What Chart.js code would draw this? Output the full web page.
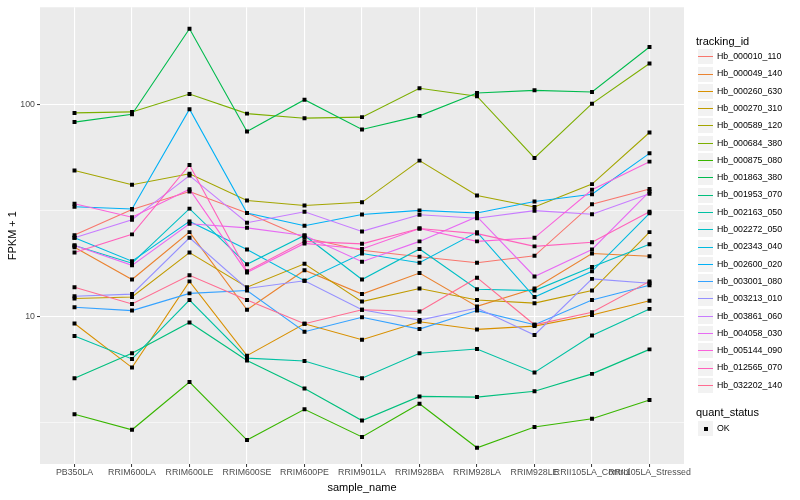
<!DOCTYPE html>
<html>
<head>
<meta charset="utf-8">
<script src="https://cdn.jsdelivr.net/npm/chart.js@4.4.0/dist/chart.umd.min.js"></script>
<style>
  body { margin: 0; background: #fff; font-family: "Liberation Sans", Arial, sans-serif; }
  #wrap { position: relative; width: 800px; height: 500px; }
  .ltitle { position: absolute; font-size: 11px; line-height: 11px; white-space: nowrap; color: #000; }
  .lkey { position: absolute; width: 17px; height: 17px; background: #F2F2F2; box-sizing: border-box; border: 1px solid #fff; }
  .lline { position: absolute; left: 0; right: 0; top: 7px; height: 1px; }
  .ldot { position: absolute; left: 5.5px; top: 5.5px; width: 4px; height: 4px; background: #000; }
  .llab { position: absolute; font-size: 8.8px; line-height: 9px; white-space: nowrap; color: #000; }
</style>
</head>
<body>
<div id="wrap">
  <canvas id="chart" width="800" height="500"></canvas>
</div>
<script>
// x categories
const sampleNames = ['PB350LA', 'RRIM600LA', 'RRIM600LE', 'RRIM600SE', 'RRIM600PE', 'RRIM901LA',
    'RRIM928BA', 'RRIM928LA', 'RRIM928LE', 'RRII105LA_Control', 'RRII105LA_Stressed'];

// FPKM + 1 per gene, one value per sample
const hb_000010_110 = [24.3, 32.1, 39.0, 30.9, 23.6, 20.6, 19.2, 18.0, 19.4, 34.0, 40.1];
const hb_000049_140 = [21.3, 15.0, 25.1, 10.8, 16.6, 12.8, 16.1, 11.2, 13.6, 19.9, 19.3];
const hb_000260_630 = [9.3, 5.76, 14.7, 6.56, 9.27, 7.8, 9.47, 8.72, 9.04, 10.2, 11.9];
const hb_000270_310 = [12.2, 12.4, 20.1, 13.8, 17.8, 11.8, 13.6, 12.0, 11.6, 13.3, 25.1];
const hb_000589_120 = [49.0, 42.0, 47.3, 35.4, 33.5, 34.7, 54.6, 37.4, 33.0, 42.3, 74.1];
const hb_000684_380 = [91.7, 92.7, 112.6, 91.0, 86.6, 87.6, 119.8, 109.9, 56.2, 101.4, 157];
const hb_000875_080 = [3.47, 2.93, 4.92, 2.62, 3.66, 2.71, 3.89, 2.41, 3.02, 3.30, 4.05];
const hb_001863_380 = [83.0, 90.4, 229, 74.9, 105.9, 76.6, 88.8, 113.8, 117.2, 115.1, 187.8];
const hb_001953_070 = [5.13, 6.73, 9.40, 6.22, 4.59, 3.24, 4.21, 4.18, 4.45, 5.38, 7.02];
const hb_002163_050 = [8.12, 6.33, 12.0, 6.38, 6.19, 5.13, 6.73, 7.05, 5.46, 8.17, 10.9];
const hb_002272_050 = [21.7, 17.9, 32.4, 17.7, 24.2, 15.0, 20.9, 13.5, 13.3, 17.2, 22.0];
const hb_002343_040 = [23.6, 18.3, 28.2, 20.8, 14.8, 19.9, 18.0, 25.1, 12.4, 16.4, 30.8];
const hb_002600_020 = [33.1, 32.3, 95.5, 30.9, 26.9, 30.4, 31.8, 30.9, 35.0, 37.9, 59.1];
const hb_003001_080 = [11.1, 10.7, 12.9, 13.3, 8.5, 9.95, 8.75, 10.7, 9.17, 12.0, 14.1];
const hb_003213_010 = [12.5, 12.8, 23.6, 13.6, 14.8, 10.8, 9.65, 11.0, 8.21, 15.1, 14.4];
const hb_003861_060 = [23.6, 28.7, 46.4, 27.8, 31.3, 25.3, 30.3, 29.2, 31.7, 30.5, 38.1];
const hb_004058_030 = [21.7, 17.5, 27.5, 26.3, 24.2, 18.2, 22.7, 29.7, 15.5, 20.8, 39.0];
const hb_005144_090 = [34.2, 29.5, 40.0, 16.2, 22.2, 20.9, 26.1, 22.7, 23.6, 39.8, 54.0];
const hb_012565_070 = [20.1, 24.5, 52.1, 16.4, 22.7, 22.1, 26.1, 24.7, 21.5, 22.5, 31.3];
const hb_032202_140 = [13.8, 11.5, 15.7, 12.0, 9.27, 10.8, 10.6, 15.3, 9.17, 10.5, 14.7];

const trackingIds = ['Hb_000010_110', 'Hb_000049_140', 'Hb_000260_630', 'Hb_000270_310', 'Hb_000589_120',
    'Hb_000684_380', 'Hb_000875_080', 'Hb_001863_380', 'Hb_001953_070', 'Hb_002163_050',
    'Hb_002272_050', 'Hb_002343_040', 'Hb_002600_020', 'Hb_003001_080', 'Hb_003213_010',
    'Hb_003861_060', 'Hb_004058_030', 'Hb_005144_090', 'Hb_012565_070', 'Hb_032202_140'];
const seriesValues = [hb_000010_110, hb_000049_140, hb_000260_630, hb_000270_310, hb_000589_120,
    hb_000684_380, hb_000875_080, hb_001863_380, hb_001953_070, hb_002163_050,
    hb_002272_050, hb_002343_040, hb_002600_020, hb_003001_080, hb_003213_010,
    hb_003861_060, hb_004058_030, hb_005144_090, hb_012565_070, hb_032202_140];
const seriesColors = ['#F8766D', '#EA8331', '#D89000', '#C09B00', '#A3A500', '#7CAE00', '#39B600',
    '#00BB4E', '#00BF7D', '#00C1A3', '#00BFC4', '#00BAE0', '#00B0F6', '#35A2FF', '#9590FF',
    '#C77CFF', '#E76BF3', '#FA62DB', '#FF62BC', '#FF6C91'];

// y axis (log10)
const yMajorTicks = [10, 100];
const yMinorTicks = [3.1623, 31.623];
const yLimits = [2.02, 289];

const statusLabels = ['OK'];

// grey panel like ggplot
const panelBg = {
    id: 'panelBg',
    beforeDraw(chart) {
        const a = chart.chartArea;
        const ctx = chart.ctx;
        ctx.save();
        ctx.fillStyle = '#EBEBEB';
        ctx.fillRect(a.left, a.top, a.right - a.left, a.bottom - a.top);
        ctx.restore();
    }
};

const datasets = seriesValues.map((vals, i) => ({
    type: 'line',
    label: trackingIds[i],
    data: vals.map((v, j) => ({ x: j, y: v })),
    borderColor: seriesColors[i],
    borderWidth: 1.1,
    pointRadius: 0,
    fill: false,
    tension: 0,
    order: seriesValues.length - i
}));

// all points drawn on top of lines
datasets.push({
    type: 'scatter',
    label: 'OK',
    data: seriesValues.flatMap(vals => vals.map((v, j) => ({ x: j, y: v }))),
    pointStyle: 'rect',
    pointRadius: 2.8,
    pointBackgroundColor: '#000',
    pointBorderWidth: 0,
    showLine: false,
    order: 0
});

const isMajor = v => yMajorTicks.includes(v);

new Chart(document.getElementById('chart'), {
    data: { datasets: datasets },
    options: {
        responsive: false,
        animation: false,
        layout: { padding: { left: 0, right: 116, top: 5, bottom: 0 } },
        plugins: { legend: { display: false }, tooltip: { enabled: false } },
        scales: {
            x: {
                type: 'linear',
                min: -0.6,
                max: 10.6,
                afterBuildTicks: scale => { scale.ticks = sampleNames.map((n, i) => ({ value: i })); },
                afterFit: scale => { scale.height = 36; },
                grid: { color: '#FFFFFF', lineWidth: 1.1, tickColor: '#333333', tickLength: 3, tickWidth: 1 },
                border: { display: false },
                ticks: {
                    autoSkip: false, maxRotation: 0, minRotation: 0, padding: 0,
                    color: '#4D4D4D',
                    font: { family: '"Liberation Sans", Arial, sans-serif', size: 8.8 },
                    callback: v => sampleNames[v]
                },
                title: {
                    display: true, text: 'sample_name', color: '#000',
                    font: { family: '"Liberation Sans", Arial, sans-serif', size: 11 },
                    padding: { top: 0, bottom: 5.5 }
                }
            },
            y: {
                type: 'logarithmic',
                min: yLimits[0],
                max: yLimits[1],
                afterBuildTicks: scale => {
                    scale.ticks = yMinorTicks.concat(yMajorTicks).sort((a, b) => a - b).map(v => ({ value: v }));
                },
                afterFit: scale => { scale.width = 40; },
                grid: {
                    color: '#FFFFFF',
                    lineWidth: ctx => (ctx.tick && isMajor(ctx.tick.value)) ? 1.1 : 0.55,
                    tickColor: ctx => (ctx.tick && isMajor(ctx.tick.value)) ? '#333333' : 'rgba(0,0,0,0)',
                    tickLength: 3,
                    tickWidth: 1
                },
                border: { display: false },
                ticks: {
                    padding: 2,
                    color: '#4D4D4D',
                    font: { family: '"Liberation Sans", Arial, sans-serif', size: 8.8 },
                    callback: v => isMajor(v) ? String(v) : ''
                },
                title: {
                    display: true, text: 'FPKM + 1', color: '#000',
                    font: { family: '"Liberation Sans", Arial, sans-serif', size: 11 },
                    padding: { top: 6.4, bottom: 0 }
                }
            }
        }
    },
    plugins: [panelBg]
});

// legend (ggplot style, on the right)
const wrap = document.getElementById('wrap');
function addEl(cls, left, top, text) {
    const el = document.createElement('div');
    el.className = cls;
    el.style.left = left + 'px';
    el.style.top = top + 'px';
    if (text !== undefined) el.textContent = text;
    wrap.appendChild(el);
    return el;
}

addEl('ltitle', 696, 35.5, 'tracking_id');
trackingIds.forEach((id, i) => {
    const cy = 56.7 + i * 17.3;
    const key = addEl('lkey', 697, Math.round(cy - 8.5));
    const line = document.createElement('div');
    line.className = 'lline';
    line.style.background = seriesColors[i];
    key.appendChild(line);
    addEl('llab', 717, cy - 4.7, id);
});

addEl('ltitle', 696, 406.5, 'quant_status');
statusLabels.forEach((s, i) => {
    const cy = 428.3 + i * 17.3;
    const key = addEl('lkey', 697, Math.round(cy - 8.5));
    const dot = document.createElement('div');
    dot.className = 'ldot';
    key.appendChild(dot);
    addEl('llab', 717, cy - 4.7, s);
});
</script>
</body>
</html>
